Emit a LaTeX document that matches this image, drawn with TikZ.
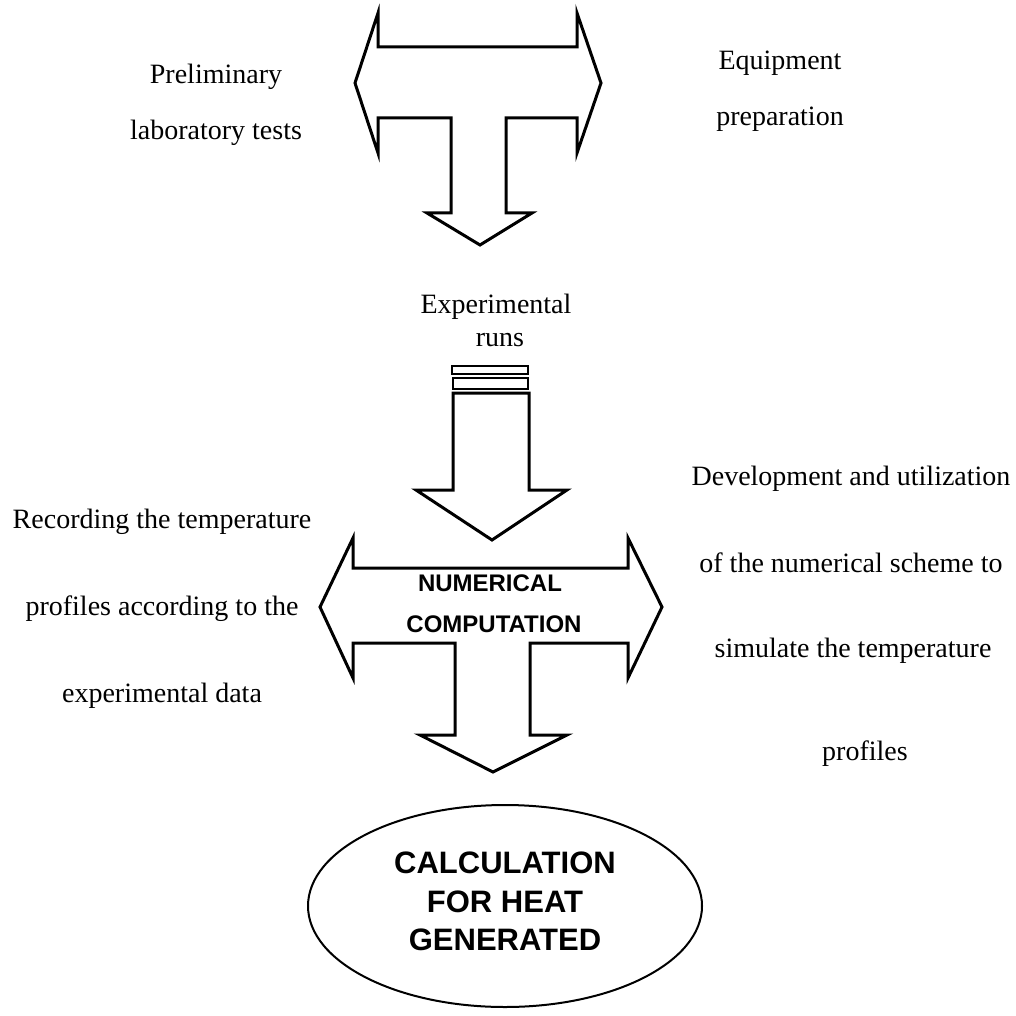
\documentclass[tikz,border=0pt]{standalone}
\usepackage{fontspec}
\setmainfont{Liberation Serif}
\setsansfont{Liberation Sans}
\usetikzlibrary{positioning}

\begin{document}
\begin{tikzpicture}[x=0.5pt,y=-0.5pt,line join=miter]
  \tikzstyle{note}=[font=\fontsize{14}{16}\selectfont,inner sep=0pt,anchor=base]
  \tikzstyle{caps}=[font=\sffamily\bfseries\fontsize{12}{14}\selectfont,inner sep=0pt,anchor=base]
  \tikzstyle{bigcaps}=[font=\sffamily\bfseries\fontsize{15.5}{17}\selectfont,inner sep=0pt,anchor=base]
  \tikzstyle{blockarrow}=[draw,line width=1.5pt,fill=white]
  \useasboundingbox (0,0) rectangle (1016,1016);
  % tests and preparation
  \draw[blockarrow] (355,83) -- (378,13) -- (378,47) -- (577,47) -- (577,13) -- (601,83)
    -- (577,153) -- (577,118) -- (506,118) -- (506,213) -- (532,213) -- (480,245)
    -- (427,213) -- (451,213) -- (451,118) -- (378,118) -- (378,153) -- cycle;
  \node[note] (prelim) at (216,84) {Preliminary};
  \node[note] (labtests) at (216,140) {laboratory tests};
  \node[note] (equip) at (780,70) {Equipment};
  \node[note] (prep) at (780,126) {preparation};
  % runs
  \node[note] (exper) at (496,313) {Experimental};
  \node[note] (runs) at (500,346) {runs};
  \draw[blockarrow,line width=1.3pt] (452,366) rectangle (528,374);
  \draw[blockarrow,line width=1.3pt] (453,378) rectangle (528,389);
  \draw[blockarrow] (453,393) -- (529,393) -- (529,490) -- (567,490) -- (492,540)
    -- (416,490) -- (453,490) -- cycle;
  % numerical computation
  \draw[blockarrow] (320,607) -- (353,538) -- (353,568) -- (628,568) -- (628,538) -- (662,607)
    -- (628,678) -- (628,643) -- (530,643) -- (530,735) -- (567,735) -- (493,772)
    -- (420,735) -- (455,735) -- (455,643) -- (353,643) -- (353,678) -- cycle;
  \node[caps] (numer) at (490,591) {NUMERICAL};
  \node[caps] (comput) at (494,632) {COMPUTATION};
  \node[note] (rec1) at (162,528) {Recording the temperature};
  \node[note] (rec2) at (162,615) {profiles according to the};
  \node[note] (rec3) at (162,702) {experimental data};
  \node[note] (dev1) at (851,485) {Development and utilization};
  \node[note] (dev2) at (851,572) {of the numerical scheme to};
  \node[note] (dev3) at (853,657) {simulate the temperature};
  \node[note] (dev4) at (865,760) {profiles};
  % result
  \draw[line width=1pt] (505,906) ellipse [x radius=197,y radius=101];
  \node[bigcaps] (calc1) at (505,873) {CALCULATION};
  \node[bigcaps] (calc2) at (505,912) {FOR HEAT};
  \node[bigcaps] (calc3) at (505,950) {GENERATED};
\end{tikzpicture}
\end{document}
